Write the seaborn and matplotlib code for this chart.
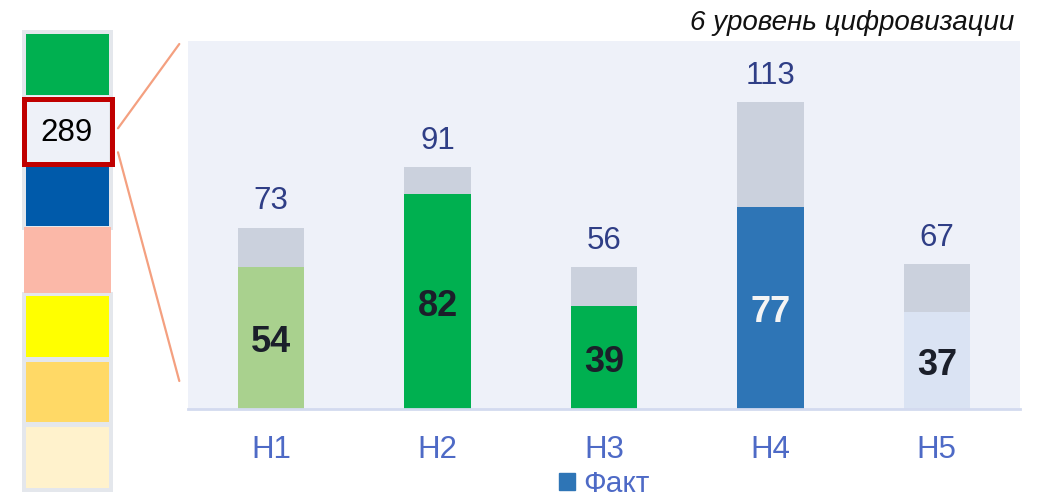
import matplotlib
matplotlib.use("Agg")
import matplotlib.pyplot as plt
import seaborn as sns
import pandas as pd
from matplotlib.patches import Rectangle, Patch

# data
hubs = ["H1", "H2", "H3", "H4", "H5"]
fact = [54, 82, 39, 77, 37]
plan_bar = [69, 92, 54, 117, 55]
plan_labels = [73, 91, 56, 113, 67]
total_value = 289

# styles
fact_colors = ["#A9D18E", "#00B050", "#00B050", "#2E75B6", "#DAE3F3"]
inner_text_colors = ["#1B1F2A", "#1B1F2A", "#1B1F2A", "#F4F4F4", "#1B1F2A"]
strip_colors = ["#00B050", "#EEF1F8", "#005AAA", "#FBB8A8", "#FFFF00", "#FFD966", "#FFF2CC"]
plan_color = "#CBD1DD"
bg_color = "#EEF1F9"
label_color = "#2F3E86"
tick_color = "#4E6AC6"

df = pd.DataFrame({"hub": hubs, "fact": fact, "plan": plan_bar})

sns.set_theme(style="white")
plt.rcParams["font.family"] = ["Liberation Sans", "DejaVu Sans"]

fig = plt.figure(figsize=(10.45, 4.98), dpi=100)
ax = fig.add_axes([188 / 1045, (498 - 408.5) / 498, 832 / 1045, 367 / 498])
ax.set_facecolor(bg_color)

sns.barplot(data=df, x="hub", y="plan", color=plan_color, width=0.4,
            saturation=1, linewidth=0, ax=ax)
sns.barplot(data=df, x="hub", y="fact", hue="hub", palette=fact_colors,
            width=0.4, saturation=1, linewidth=0, dodge=False, legend=False, ax=ax)

ax.set_ylim(0, 140)
ax.set_xlim(-0.5, 4.5)
ax.set_xlabel("")
ax.set_ylabel("")
ax.set_yticks([])
for side in ["top", "left", "right"]:
    ax.spines[side].set_visible(False)
ax.spines["bottom"].set_color("#D3DAEF")
ax.spines["bottom"].set_linewidth(2)
ax.tick_params(axis="x", length=0, pad=19, labelsize=22.5, labelcolor=tick_color)

for i in range(len(hubs)):
    ax.text(i, plan_bar[i] + 10, str(plan_labels[i]), ha="center", va="center",
            fontsize=22.5, color=label_color)
    ax.text(i, fact[i] / 2 - 2, str(fact[i]), ha="center", va="center",
            fontsize=26, fontweight="bold", color=inner_text_colors[i])

fig.legend(handles=[Patch(color="#2E75B6")], labels=["Факт"], loc="center",
           bbox_to_anchor=(604.5 / 1045, (498 - 484) / 498), frameon=False,
           fontsize=21.5, handlelength=0.52, handleheight=0.52, handletextpad=0.3,
           borderpad=0.1, labelcolor=tick_color)

fig.text(1014 / 1045, 1 - 30 / 498, "6 уровень цифровизации", ha="right", va="baseline",
         fontsize=20, style="italic", color="#111111")

# left strip with the highlighted total
ov = fig.add_axes([0, 0, 1, 1], zorder=3)
ov.set_xlim(0, 1045)
ov.set_ylim(498, 0)
ov.axis("off")

ov.add_patch(Rectangle((22, 30), 91, 200, facecolor="#E4E7EC", edgecolor="none"))
ov.add_patch(Rectangle((22, 291.7), 91, 200, facecolor="#E4E7EC", edgecolor="none"))
cell_tops = [34, 96, 167, 226.7, 295.7, 361.7, 426.7]
cell_bottoms = [95, 166.7, 226, 292.7, 356.7, 422.3, 487.7]
for k, col in enumerate(strip_colors):
    if k == 3:
        x0, w = 24, 87
    else:
        x0, w = 26.3, 82.7
    ov.add_patch(Rectangle((x0, cell_tops[k]), w, cell_bottoms[k] - cell_tops[k],
                           facecolor=col, edgecolor="none"))
ov.add_patch(Rectangle((23.8, 98.5), 87.7, 65.7, facecolor="none",
                       edgecolor="#C00000", linewidth=3.6))
ov.text(66.5, 132.5, str(total_value), ha="center", va="center", fontsize=22.5,
        color="#000000")

ov.plot([118, 179.3], [128.3, 44], color="#F4A080", linewidth=1.6)
ov.plot([118, 179.3], [152.3, 381], color="#F4A080", linewidth=1.6)

fig.savefig("out.png", dpi=100)
